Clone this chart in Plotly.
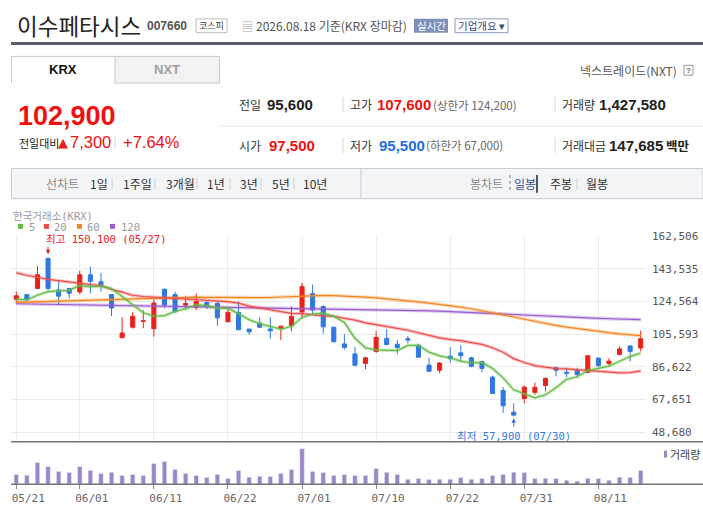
import plotly.graph_objects as go

# ---- 데이터 ----
dates = ["05/21", "05/22", "05/26", "05/27", "05/28", "05/29", "06/01", "06/02", "06/04", "06/05",
         "06/08", "06/09", "06/10", "06/11", "06/12", "06/15", "06/16", "06/17", "06/18", "06/19",
         "06/22", "06/23", "06/24", "06/25", "06/26", "06/29", "06/30", "07/01", "07/02", "07/03",
         "07/06", "07/07", "07/08", "07/09", "07/10", "07/13", "07/14", "07/15", "07/16", "07/20",
         "07/21", "07/22", "07/23", "07/24", "07/27", "07/28", "07/29", "07/30", "07/31", "08/03",
         "08/04", "08/05", "08/06", "08/07", "08/10", "08/11", "08/12", "08/13", "08/14", "08/18"]

open_ = [125800, 128500, 132100, 149500, 131200, 132000, 130000, 140000, 136000, 128500,
         103500, 109600, 113000, 108700, 131600, 128500, 122400, 121100, 123900, 123400,
         112700, 118200, 108500, 111900, 108500, 108700, 110400, 118400, 129100, 121600,
         109600, 99900, 94100, 88600, 95500, 103100, 99700, 102900, 99100, 87600,
         84600, 92800, 94700, 91800, 89600, 80600, 72900, 60300, 68200, 71800,
         75800, 86100, 83400, 84400, 83400, 91700, 88600, 93800, 98700, 97500]
high = [130200, 128500, 145100, 150100, 136200, 132000, 142300, 144600, 141100, 128500,
        115300, 118400, 119400, 125800, 132000, 130200, 127400, 129100, 124500, 124500,
        120500, 124700, 108500, 115300, 115300, 110200, 121600, 135400, 134300, 122200,
        109600, 105600, 98100, 92400, 107300, 108500, 102200, 104500, 99900, 91800,
        89400, 98000, 99100, 92400, 90100, 81500, 74800, 65500, 75800, 77500,
        80600, 86100, 86100, 86100, 93400, 92000, 91700, 98500, 99300, 107600]
low = [123400, 124300, 131600, 131000, 122400, 126400, 128900, 129300, 130200, 116100,
       103500, 108700, 109000, 104100, 120500, 117800, 119700, 119500, 120100, 110400,
       112700, 108100, 105200, 109200, 102900, 102000, 107300, 114400, 117300, 105800,
       100600, 96600, 87100, 85200, 94700, 99500, 93800, 100100, 92200, 84000,
       82900, 88900, 89400, 86300, 83400, 70800, 59900, 57900, 65500, 70400,
       72400, 81100, 80600, 80200, 82700, 86700, 87300, 93200, 89700, 95500]
close = [127800, 125800, 140000, 132000, 127600, 129300, 140000, 136200, 133700, 120700,
         106200, 115900, 113300, 123600, 122400, 118600, 123400, 124500, 121500, 115000,
         118200, 108100, 106900, 109600, 107500, 110200, 115900, 133100, 119500, 109800,
         101200, 97800, 87500, 91800, 103700, 99500, 97800, 102200, 92200, 84000,
         88800, 91300, 93200, 86900, 85700, 71200, 64000, 58600, 74800, 74700,
         79800, 84600, 82900, 82100, 93000, 87300, 89900, 97000, 95600, 102900]

ma5 = [125830, 125480, 128120, 130240, 130640, 130940, 133780, 133020, 133360, 131980,
       127360, 122540, 117960, 115940, 116280, 118760, 120260, 122500, 122080, 120600,
       120520, 117460, 113940, 111560, 110060, 108460, 110020, 115260, 117240, 117700,
       115900, 112280, 103160, 97620, 96400, 96060, 96060, 99000, 99080, 95140,
       93000, 91700, 89900, 88840, 89180, 85660, 80200, 73280, 70860, 68660,
       70380, 74500, 79360, 80820, 84480, 85980, 87040, 89860, 92560, 94540]
ma20 = [141130, 139580, 138550, 137290, 136550, 135680, 134830, 134250, 133680, 131560,
        129950, 128120, 127380, 126980, 126630, 126400, 125830, 125370, 125080, 124875,
        124395, 123510, 121855, 120735, 119730, 118775, 117570, 117415, 116705, 116160,
        115910, 115005, 113715, 112125, 111190, 110235, 108955, 107840, 106375, 104825,
        103355, 102515, 101830, 100695, 99605, 97655, 95060, 91335, 89100, 87345,
        86275, 85615, 85385, 84900, 84365, 83755, 83360, 83100, 83270, 84215]
ma60 = [124000, 124200, 124400, 124600, 124800, 125000, 125200, 125400, 125600, 125800,
        126000, 126200, 126400, 126600, 126800, 126900, 127000, 127000, 126900, 126800,
        126700, 126600, 126600, 126700, 126800, 127100, 127400, 127800, 127900, 128000,
        127900, 127700, 127400, 127000, 126600, 126100, 125500, 124900, 124300, 123600,
        122900, 122100, 121200, 120300, 119200, 118100, 116800, 115500, 114200, 112900,
        111700, 110600, 109600, 108700, 107900, 107100, 106400, 105700, 105200, 104700]
ma120 = [123200, 123100, 123000, 122900, 122700, 122600, 122500, 122400, 122300, 122200,
         122100, 122000, 121900, 121800, 121700, 121600, 121500, 121400, 121400, 121300,
         121200, 121100, 121000, 121000, 120900, 120800, 120700, 120600, 120500, 120400,
         120300, 120300, 120200, 120100, 120000, 119800, 119700, 119500, 119300, 119100,
         118900, 118600, 118300, 118000, 117700, 117300, 117000, 116800, 116500, 116200,
         116000, 115700, 115400, 115100, 114900, 114700, 114500, 114300, 114100, 114000]

volume = [1010000, 930000, 2240000, 1830000, 1330000, 1220000, 1840000, 1430000, 1120000, 1230000,
          920000, 1020000, 910000, 2150000, 2350000, 1530000, 1120000, 920000, 710000, 1020000,
          610000, 1430000, 720000, 820000, 810000, 1120000, 1530000, 3670000, 1330000, 1220000,
          920000, 1020000, 920000, 910000, 1630000, 1230000, 1020000, 510000, 610000, 500000,
          510000, 520000, 710000, 510000, 610000, 920000, 1020000, 1230000, 1220000, 610000,
          620000, 600000, 410000, 310000, 620000, 610000, 410000, 720000, 710000, 1427580]

x_ticks = ["05/21", "06/01", "06/11", "06/22", "07/01", "07/10", "07/22", "07/31", "08/11"]
y_ticks = [48680, 67651, 86622, 105593, 124564, 143535, 162506]

ma_names = ["5", "20", "60", "120"]
ma_colors = ["#62bd45", "#ef4a4a", "#f5861f", "#9b5bd0"]

RED = "#e8221b"
BLUE = "#2f78e0"
W, H = 703, 509
KR = "Noto Sans CJK KR"
MONO = "DejaVu Sans Mono, Noto Sans CJK KR"
NUM = "Liberation Sans"


def px(x):
    return x / W


def py(y):
    return 1 - y / H


fig = go.Figure()

# 이동평균선
for vals, c in zip([ma120, ma60, ma20, ma5], ma_colors[::-1]):
    fig.add_trace(go.Scatter(x=dates, y=vals, mode="lines", line=dict(color=c, width=3.5),
                             opacity=0.3, hoverinfo="skip", showlegend=False))
    fig.add_trace(go.Scatter(x=dates, y=vals, mode="lines", line=dict(color=c, width=1.2),
                             hoverinfo="skip", showlegend=False))

# 캔들
fig.add_trace(go.Candlestick(
    x=dates, open=open_, high=high, low=low, close=close,
    increasing=dict(line=dict(color=RED, width=1), fillcolor=RED),
    decreasing=dict(line=dict(color=BLUE, width=1), fillcolor=BLUE),
    whiskerwidth=0, showlegend=False))

# 거래량
fig.add_trace(go.Bar(x=dates, y=volume, marker_color="#9b86c6", xaxis="x2", yaxis="y2",
                     showlegend=False))

fig.update_layout(
    width=W, height=H, margin=dict(l=0, r=0, t=0, b=0),
    paper_bgcolor="white", plot_bgcolor="white",
    font=dict(family=KR, color="#333"),
    boxgap=0.45, bargap=0.58,
    xaxis=dict(domain=[px(11), px(646)], anchor="y", type="category", range=[-0.5, 59.5],
               tickvals=x_ticks, showticklabels=False, ticks="", showgrid=True,
               gridcolor="#ececec", zeroline=False, rangeslider=dict(visible=False)),
    yaxis=dict(domain=[py(441), py(232.7)], range=[43121, 162506], side="right",
               tickvals=y_ticks, ticktext=[f"{v:,}" for v in y_ticks],
               tickfont=dict(family=MONO, size=11, color="#555"), ticklabelstandoff=5,
               showgrid=True, gridcolor="#ececec", zeroline=False),
    xaxis2=dict(domain=[px(11), px(646)], anchor="y2", type="category", range=[-0.5, 59.5],
                matches="x", tickvals=x_ticks, ticks="outside", ticklen=4, tickcolor="#888",
                tickfont=dict(family=MONO, size=11, color="#666"), ticklabelshift=12,
                showgrid=False, zeroline=False),
    yaxis2=dict(domain=[py(484), py(441)], range=[0, 4385000], showticklabels=False,
                showgrid=False, zeroline=False),
)

shapes = []


def rect(x0, y0, x1, y1, fill=None, line=None, lw=1):
    shapes.append(dict(type="rect", xref="paper", yref="paper", x0=px(x0), x1=px(x1),
                       y0=py(y1), y1=py(y0), fillcolor=fill or "rgba(0,0,0,0)",
                       line=dict(color=line or "rgba(0,0,0,0)", width=lw if line else 0)))


def hline(x0, x1, y, color, w=1):
    shapes.append(dict(type="line", xref="paper", yref="paper", x0=px(x0), x1=px(x1),
                       y0=py(y), y1=py(y), line=dict(color=color, width=w)))


def vline(x, y0, y1, color, w=1, dash="solid"):
    shapes.append(dict(type="line", xref="paper", yref="paper", x0=px(x), x1=px(x),
                       y0=py(y0), y1=py(y1), line=dict(color=color, width=w, dash=dash)))


# 헤더 하단 굵은 선
rect(11, 36.5, 703, 39.5, fill="#575d64")
# KRX / NXT 탭
rect(115, 51, 219.5, 78, fill="#f2f2f2", line="#c9c9c9")
hline(11, 115, 51, "#c9c9c9")
vline(11.5, 51, 78, "#c9c9c9")
# 시세 표 구분선
hline(220, 703, 121.5, "#e6e6e6")
for sx in [343, 555]:
    vline(sx, 92, 108, "#d8d8d8")
    vline(sx, 133, 149, "#d8d8d8")
vline(115, 131, 145, "#d8d8d8")
# 차트 메뉴 바
rect(11.5, 164.5, 703, 195, fill="#f4f5f7", line="#c8cbd0")
vline(361, 165, 195, "#c8cbd0")
for sx in [112, 155, 197, 230, 261, 294, 577]:
    vline(sx, 174, 186, "#d0d0d0")
vline(510, 171, 189, "#777", dash="dot")
vline(537, 171, 189, "#222", w=1.5)
# 차트 하단선
hline(11, 703, 441, "#757575", 1.5)
hline(11, 703, 484, "#757575", 1.5)
# 헤더 작은 상자
rect(196, 13, 227, 27, line="#bbb")
rect(414, 13, 448, 27, fill="#8090b9")
rect(455, 13, 508, 27, line="#8c9ac0")
rect(684, 60, 693, 70, line="#999")
# 거래량 범례
rect(664, 450, 667, 457, fill="#9b86c6")
# 이동평균 범례 색 사각형
for lx, c in zip([18, 44, 77, 110], ma_colors):
    rect(lx, 220.5, lx + 5, 225.5, fill=c)
fig.update_layout(shapes=shapes)


def txt(x, y, s, size=12, color="#333", anchor="left", family=KR, bold=False):
    if bold:
        s = f"<b>{s}</b>"
    fig.add_annotation(x=px(x), y=py(y), xref="paper", yref="paper", text=s, showarrow=False,
                       xanchor=anchor, yanchor="middle", font=dict(size=size, color=color, family=family))


# 헤더
txt(15, 19, "이수페타시스", 22.5, "#222")
txt(145, 20.5, "007660", 12, "#555", family=NUM, bold=True)
txt(211.5, 20, "코스피", 9, "#444", anchor="center")
txt(240, 20.5, "▤", 11, "#aaa")
txt(254, 20, "2026.08.18 기준(KRX 장마감)", 12, "#555")
txt(431, 20, "실시간", 10.5, "white", anchor="center")
txt(481.5, 20, "기업개요 ▾", 10.5, "#34487e", anchor="center")

# 탭
txt(63, 64.5, "KRX", 13, "#111", anchor="center", family=NUM, bold=True)
txt(167, 64.5, "NXT", 13, "#a0a0a0", anchor="center", family=NUM, bold=True)
txt(679, 65, "넥스트레이드(NXT)", 12, "#555", anchor="right")
txt(688.5, 65, "?", 8, "#666", anchor="center", family=NUM, bold=True)

# 현재가
txt(16, 111, "102,900", 27, "#f01010", family=NUM, bold=True)
txt(17, 138.5, "전일대비", 11, "#222")
txt(56, 138, "▲", 13, "#e8221b", family="DejaVu Sans")
txt(68, 138, "7,300", 16.5, "#f01010", family=NUM)
txt(121, 138, "+7.64%", 16.5, "#f01010", family=NUM)

# 시세 표
row1, row2 = 100, 141
txt(237, row1, "전일", 12, "#333")
txt(265, row1, "95,600", 15, "#222", family=NUM, bold=True)
txt(348, row1, "고가", 12, "#333")
txt(375, row1, "107,600", 15, "#f01010", family=NUM, bold=True)
txt(431, row1, "(상한가 124,200)", 11.5, "#666")
txt(560, row1, "거래량", 12, "#333")
txt(597, row1, "1,427,580", 15, "#222", family=NUM, bold=True)
txt(237, row2, "시가", 12, "#333")
txt(267, row2, "97,500", 15, "#f01010", family=NUM, bold=True)
txt(348, row2, "저가", 12, "#333")
txt(377, row2, "95,500", 15, "#1a6fe6", family=NUM, bold=True)
txt(424, row2, "(하한가 67,000)", 11.5, "#666")
txt(560, row2, "거래대금", 12, "#333")
txt(607, row2, "147,685", 15, "#222", family=NUM, bold=True)
txt(664, row2, "백만", 12.5, "#222", bold=True)

# 차트 메뉴
txt(44, 180, "선차트", 12, "#888")
for lx, s in zip([88, 121, 164, 205, 238, 270, 301], ["1일", "1주일", "3개월", "1년", "3년", "5년", "10년"]):
    txt(lx, 180, s, 12, "#333")
txt(468, 180, "봉차트", 12, "#888")
txt(512, 180, "일봉", 12, "#2f4f9f")
txt(548, 180, "주봉", 12, "#333")
txt(584, 180, "월봉", 12, "#333")

# 차트 제목 / 범례
txt(11, 212.5, "한국거래소(KRX)", 10.5, "#999", family=MONO)
for lx, s in zip([27, 52, 85, 119], ma_names):
    txt(lx, 223.5, s, 10.5, "#999", family=MONO)
txt(668, 453.5, "거래량", 11, "#444")

# 최고 / 최저
fig.add_annotation(x=dates[3], y=high[3], xref="x", yref="y", text="최고 150,100 (05/27)",
                   showarrow=False, xanchor="left", xshift=-4, yanchor="middle", yshift=18,
                   font=dict(size=10.5, color="#e8221b", family=MONO))
fig.add_annotation(x=dates[3], y=high[3], xref="x", yref="y", text="", showarrow=True,
                   ax=0, ay=-12, arrowhead=2, arrowsize=0.9, arrowwidth=1, arrowcolor="#e8221b",
                   standoff=3)
fig.add_annotation(x=dates[47], y=low[47], xref="x", yref="y", text="최저 57,900 (07/30)",
                   showarrow=False, xanchor="center", yanchor="middle", yshift=-20,
                   font=dict(size=10.5, color="#2f78e0", family=MONO))
fig.add_annotation(x=dates[47], y=low[47], xref="x", yref="y", text="", showarrow=True,
                   ax=0, ay=12, arrowhead=2, arrowsize=0.9, arrowwidth=1, arrowcolor="#2f78e0",
                   standoff=2)

fig.write_html("out.html", config={"displayModeBar": False},
               post_script="document.body.style.margin='0';")
